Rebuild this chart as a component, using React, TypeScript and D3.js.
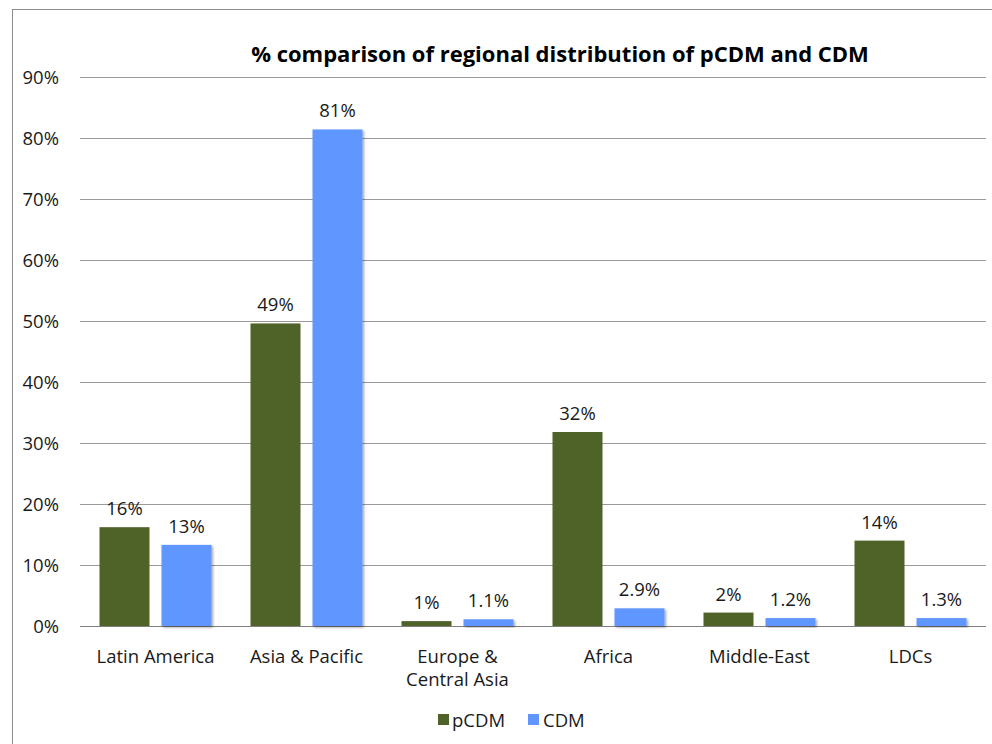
import React from "react";
import * as d3 from "d3";

const categories = ["Latin America", "Asia & Pacific", "Europe &\nCentral Asia", "Africa", "Middle-East", "LDCs"];
const seriesNames = ["pCDM", "CDM"];
const pcdmValues = [16.2, 49.6, 0.8, 31.8, 2.2, 14.0];
const cdmValues = [13.3, 81.4, 1.1, 2.9, 1.3, 1.3];
const pcdmLabels = ["16%", "49%", "1%", "32%", "2%", "14%"];
const cdmLabels = ["13%", "81%", "1.1%", "2.9%", "1.2%", "1.3%"];
const yTicks = [0, 10, 20, 30, 40, 50, 60, 70, 80, 90];
const colors = ["#4F6228", "#6196FF"];

export default function App() {
  const W = 992, H = 744;
  const left = 80, right = 986, top = 77, bottom = 626;
  const font = "'Open Sans', 'Noto Sans', sans-serif";
  const fs = 18.5;
  const x = d3.scaleBand<number>().domain(d3.range(categories.length)).range([left, right]).paddingInner(0).paddingOuter(0);
  const x1 = d3.scaleBand<number>().domain([0, 1]).range([0, x.bandwidth()]).paddingInner(0.1935).paddingOuter(0.3145);
  const y = d3.scaleLinear().domain([0, 90]).range([bottom, top]);
  const series = [pcdmValues, cdmValues];
  const labels = [pcdmLabels, cdmLabels];

  return (
    <svg width={W} height={H} style={{ position: "absolute", left: 0, top: 0, background: "#fff" }} fontFamily={font}>
      <defs>
        <filter id="shadow" x="-20%" y="-20%" width="140%" height="140%">
          <feDropShadow dx="1.5" dy="1.5" stdDeviation="1.2" floodColor="#000" floodOpacity="0.35" />
        </filter>
      </defs>
      <rect x={12.5} y={9.5} width={1000} height={800} fill="#fff" stroke="#8c8c8c" strokeWidth={1} />
      <text x={560} y={62} textAnchor="middle" fontSize={22} fontWeight="bold" fill="#000">
        % comparison of regional distribution of pCDM and CDM
      </text>
      {yTicks.map((t) => (
        <g key={t}>
          <line x1={left} x2={right} y1={Math.round(y(t)) + 0.5} y2={Math.round(y(t)) + 0.5} stroke={t === 0 ? "#7f7f7f" : "#9a9a9a"} strokeWidth={1} />
          <text x={59} y={y(t) + 7} textAnchor="end" fontSize={fs} fill="#1a1a1a">{t}%</text>
        </g>
      ))}
      {categories.map((c, i) => (
        <g key={c}>
          {series.map((vals, s) => {
            const bx = (x(i) as number) + (x1(s) as number);
            const bw = x1.bandwidth();
            return (
              <g key={s}>
                <rect x={bx} y={y(vals[i])} width={bw} height={y(0) - y(vals[i])} fill={colors[s]} filter={s === 1 ? "url(#shadow)" : undefined} />
                <text x={bx + bw / 2} y={y(vals[i]) - 12} textAnchor="middle" fontSize={fs} fill="#1a1a1a">{labels[s][i]}</text>
              </g>
            );
          })}
          {c.split("\n").map((line, k) => (
            <text key={k} x={(x(i) as number) + x.bandwidth() / 2} y={663 + k * 23} textAnchor="middle" fontSize={fs} fill="#1a1a1a">{line}</text>
          ))}
        </g>
      ))}
      <g>
        <rect x={438} y={714} width={11} height={11} fill={colors[0]} />
        <text x={452} y={727} fontSize={fs} fill="#1a1a1a">{seriesNames[0]}</text>
        <rect x={528} y={714} width={11} height={11} fill={colors[1]} />
        <text x={543} y={727} fontSize={fs} fill="#1a1a1a">{seriesNames[1]}</text>
      </g>
    </svg>
  );
}
